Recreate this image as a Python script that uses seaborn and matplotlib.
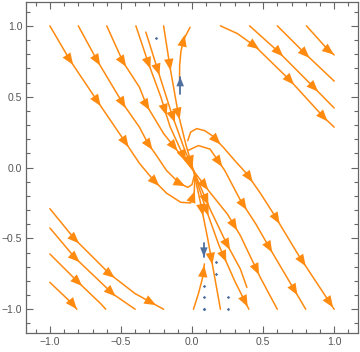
import numpy as np
import pandas as pd
import matplotlib
matplotlib.use("Agg")
import matplotlib.pyplot as plt
import seaborn as sns

# Streamlines (x, y in data units, in flow order)
tl1 = [(-1.0, 1.0), (-0.86, 0.76), (-0.67, 0.475), (-0.47, 0.18), (-0.37, 0.03), (-0.27, -0.09),
       (-0.18, -0.18), (-0.08, -0.245), (-0.01, -0.25), (0.015, -0.18), (0.02, -0.08)]
tl2 = [(-0.8, 1.0), (-0.67, 0.76), (-0.485, 0.45), (-0.37, 0.285), (-0.31, 0.17), (-0.25, 0.085),
       (-0.18, -0.02), (-0.09, -0.11), (-0.03, -0.14), (0.0, -0.12), (0.015, -0.06)]
tl3 = [(-0.6, 1.0), (-0.485, 0.745), (-0.37, 0.567), (-0.32, 0.44), (-0.2, 0.24), (-0.08, 0.09),
       (0.0, -0.01), (0.13, -0.18), (0.25, -0.33), (0.34, -0.48), (0.48, -0.775), (0.6, -1.0)]
tl4 = [(-0.395, 1.0), (-0.31, 0.745), (-0.22, 0.5), (-0.155, 0.29), (-0.06, 0.08), (0.01, -0.02),
       (0.13, -0.3), (0.245, -0.54), (0.34, -0.716), (0.386, -0.846)]
tc1 = [(-0.325, 0.956), (-0.24, 0.685), (-0.143, 0.38), (-0.05, 0.12), (0.01, -0.02),
       (0.09, -0.27), (0.19, -0.55), (0.3, -0.8), (0.4, -1.0)]
tc2 = [(-0.2, 1.0), (-0.155, 0.71), (-0.097, 0.38), (-0.04, 0.15), (0.01, -0.02),
       (0.06, -0.25), (0.11, -0.5), (0.155, -0.75), (0.2, -1.0)]
fan1 = [(-0.03, 0.12), (0.045, 0.155), (0.127, 0.13), (0.23, -0.02), (0.34, -0.23),
        (0.45, -0.40), (0.55, -0.575), (0.8, -1.0)]
fan0 = [(-0.03, 0.19), (-0.01, 0.25), (0.033, 0.275), (0.09, 0.26), (0.14, 0.226), (0.22, 0.143),
        (0.3, 0.05), (0.386, -0.045), (0.48, -0.18), (0.574, -0.327), (0.75, -0.62), (1.0, -1.0)]
tr1 = [(0.2, 1.0), (0.32, 0.945), (0.445, 0.855), (0.69, 0.615), (0.927, 0.355), (1.0, 0.285)]
tr2 = [(0.405, 1.0), (0.61, 0.815), (0.856, 0.567), (1.0, 0.42)]
tr3 = [(0.6, 1.0), (0.8, 0.8), (1.0, 0.61)]
tr4 = [(0.805, 1.0), (0.96, 0.827), (1.0, 0.795)]
bl1 = [(-1.0, -0.81), (-0.84, -0.963), (-0.81, -1.0)]
bl2 = [(-1.0, -0.61), (-0.81, -0.8), (-0.64, -0.963), (-0.607, -1.0)]
bl3 = [(-1.0, -0.426), (-0.826, -0.634), (-0.555, -0.893), (-0.4, -1.0)]
bl4 = [(-1.0, -0.29), (-0.826, -0.504), (-0.58, -0.75), (-0.4, -0.89), (-0.2, -1.0)]
v_top = [(-0.088, 0.62), (-0.087, 0.72), (-0.078, 0.82), (-0.06, 0.9), (-0.014, 0.99)]
v_bot = [(0.01, -1.0), (0.045, -0.89), (0.075, -0.775), (0.087, -0.68)]

orange_lines = [tl1, tl2, tl3, tl4, tc1, tc2, fan1, fan0, tr1, tr2, tr3, tr4,
                bl1, bl2, bl3, bl4, v_top, v_bot]

# short blue streamlines and seed dots
blue_up = [(-1 / 12, 0.52), (-1 / 12, 0.64)]
blue_down = [(1 / 12, -0.53), (1 / 12, -0.63)]
blue_dot_x = [1 / 12, 1 / 12, 1 / 12, 1 / 12, 2 / 12, 2 / 12, 3 / 12, 3 / 12, -3 / 12]
blue_dot_y = [-1.0, -11 / 12, -10 / 12, -1.0, -9 / 12, -8 / 12, -11 / 12, -1.0, 11 / 12]

tick_values = [-1.0, -0.5, 0.0, 0.5, 1.0]
tick_labels = ["\u22121.0", "\u22120.5", "0.0", "0.5", "1.0"]

ORANGE = "#ff8a10"
BLUE = "#4f6f9f"
FRAME = "#666666"


def arrow_spots(pts, first=0.28, step=0.35):
    """Positions and directions of arrowheads along a polyline (by arc length)."""
    p = np.asarray(pts, dtype=float)
    seg = np.diff(p, axis=0)
    seglen = np.hypot(seg[:, 0], seg[:, 1])
    cum = np.concatenate([[0], np.cumsum(seglen)])
    total = cum[-1]
    if total < first + 0.02:
        spots = [0.85 * total]
    else:
        spots = list(np.arange(first, total - 0.02, step))
    out = []
    for s in spots:
        i = min(np.searchsorted(cum, s, side="right") - 1, len(seg) - 1)
        t = (s - cum[i]) / seglen[i]
        pos = p[i] + t * seg[i]
        d = seg[i] / seglen[i]
        out.append((pos, d))
    return out


def add_arrow(ax, pos, d, color, scale=10):
    tip = pos + 0.04 * d
    tail = tip - 0.1 * d
    ax.annotate("", xy=tip, xytext=tail,
                arrowprops=dict(arrowstyle="-|>,head_length=0.85,head_width=0.34",
                                mutation_scale=scale, color=color, lw=0,
                                shrinkA=0, shrinkB=0))


sns.set_style("white")
plt.rcParams["font.family"] = ["Liberation Sans", "DejaVu Sans"]

fig = plt.figure(figsize=(3.6, 3.52), dpi=100)
ax = fig.add_axes([0.0714, 0.053, 0.924, 0.942])

rows = []
for k, line in enumerate(orange_lines):
    for x, y in line:
        rows.append({"x": x, "y": y, "line": k})
df = pd.DataFrame(rows)
sns.lineplot(data=df, x="x", y="y", units="line", estimator=None, sort=False,
             color=ORANGE, lw=1.1, ax=ax, legend=False)

for line in orange_lines:
    for pos, d in arrow_spots(line):
        add_arrow(ax, pos, d, ORANGE)

blue_df = pd.DataFrame({"x": [p[0] for p in blue_up + blue_down],
                        "y": [p[1] for p in blue_up + blue_down],
                        "line": [0, 0, 1, 1]})
sns.lineplot(data=blue_df, x="x", y="y", units="line", estimator=None, sort=False,
             color=BLUE, lw=1.3, ax=ax, legend=False)
for line in [blue_up, blue_down]:
    p = np.asarray(line)
    d = (p[1] - p[0]) / np.hypot(*(p[1] - p[0]))
    add_arrow(ax, p[1] - 0.04 * d, d, BLUE, scale=8)

sns.scatterplot(x=blue_dot_x, y=blue_dot_y, color=BLUE, marker="D", s=3,
                linewidth=0, ax=ax, legend=False)

ax.set_xlim(-1.17, 1.17)
ax.set_ylim(-1.17, 1.17)
ax.set_xlabel("")
ax.set_ylabel("")
ax.set_xticks(tick_values)
ax.set_xticklabels(tick_labels)
ax.set_yticks(tick_values)
ax.set_yticklabels(tick_labels)
minor = [v / 10 for v in range(-11, 12) if v % 5 != 0]
ax.set_xticks(minor, minor=True)
ax.set_yticks(minor, minor=True)
ax.tick_params(which="both", direction="in", bottom=True, left=True, top=True, right=True,
               color=FRAME, width=0.8, labelsize=7.5, labelcolor="#555555", pad=2.5)
ax.tick_params(which="major", length=5)
ax.tick_params(which="minor", length=2.8)
for sp in ax.spines.values():
    sp.set_color(FRAME)
    sp.set_linewidth(0.9)

fig.savefig("out.png", dpi=100)
